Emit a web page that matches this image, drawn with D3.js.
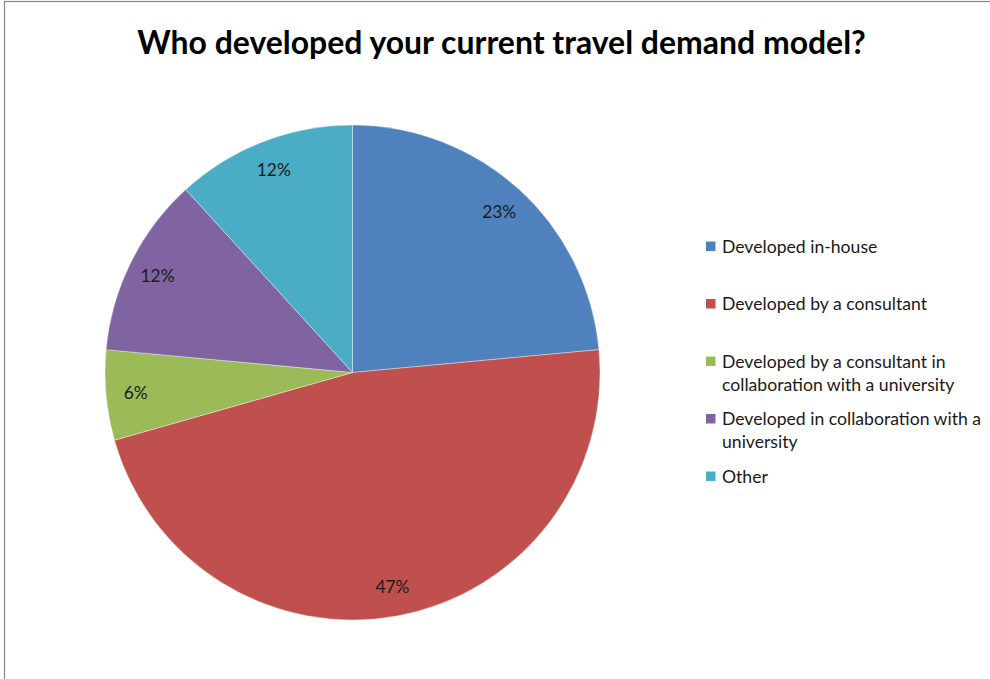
<!DOCTYPE html>
<html>
<head>
<meta charset="utf-8">
<script src="https://cdn.jsdelivr.net/npm/d3@7"></script>
<style>
  html, body { margin: 0; padding: 0; background: #fff; }
  svg { display: block; }
</style>
</head>
<body>
<svg id="chart" width="990" height="679"></svg>
<script>
// ---- data ----
const title = "Who developed your current travel demand model?";
const categories = [
  "Developed in-house",
  "Developed by a consultant",
  "Developed by a consultant in collaboration with a university",
  "Developed in collaboration with a university",
  "Other"
];
const legendLines = [
  ["Developed in-house"],
  ["Developed by a consultant"],
  ["Developed by a consultant in", "collaboration with a university"],
  ["Developed in collaboration with a", "university"],
  ["Other"]
];
const values = [4, 8, 1, 2, 2];
const pctLabels = ["23%", "47%", "6%", "12%", "12%"];
const colors = ["#4F81BD", "#C0504D", "#9BBB59", "#8064A2", "#4BACC6"];

// ---- layout ----
const W = 990, H = 679;
const cx = 352.5, cy = 372.5, R = 247.5;
const font = "Lato, 'Open Sans', 'DejaVu Sans', sans-serif";

const svg = d3.select("#chart");

// chart frame
svg.append("rect")
  .attr("x", 4.5).attr("y", 1.5)
  .attr("width", 1200).attr("height", 1200)
  .attr("fill", "none").attr("stroke", "#878787").attr("stroke-width", 1.2);

// helper to fit font-size to a target width
function fitSize(textSel, target, start) {
  textSel.style("font-size", start + "px");
  const w = textSel.node().getComputedTextLength();
  const s = start * target / w;
  textSel.style("font-size", s + "px");
  return s;
}

// title
const t = svg.append("text")
  .attr("x", 501.5).attr("y", 54)
  .attr("text-anchor", "middle")
  .style("font-family", font)
  .style("font-weight", "bold")
  .attr("fill", "#000")
  .text(title);
fitSize(t, 729, 30);

// pie
const pie = d3.pie().sort(null).value(d => d)
  .startAngle(0).endAngle(2 * Math.PI);
const arcs = pie(values);
const arc = d3.arc().innerRadius(0).outerRadius(R);
const labelArc = d3.arc().innerRadius(R * 0.88).outerRadius(R * 0.88);

const g = svg.append("g").attr("transform", `translate(${cx},${cy})`);
g.selectAll("path.slice")
  .data(arcs)
  .join("path")
  .attr("class", "slice")
  .attr("d", arc)
  .attr("fill", (d, i) => colors[i])
  .attr("stroke", "rgba(255,255,255,0.45)")
  .attr("stroke-width", 0.8);

// percentage labels
const probe = svg.append("text").style("font-family", font).text("23%");
const labelSize = fitSize(probe, 34, 16);
probe.remove();

g.selectAll("text.pct")
  .data(arcs)
  .join("text")
  .attr("class", "pct")
  .attr("transform", d => `translate(${labelArc.centroid(d)})`)
  .attr("text-anchor", "middle")
  .attr("dominant-baseline", "central")
  .style("font-family", font)
  .style("font-size", labelSize + "px")
  .attr("fill", "#1a1a1a")
  .text((d, i) => pctLabels[i]);

// legend
const probe2 = svg.append("text").style("font-family", font).text("Developed by a consultant");
const legSize = fitSize(probe2, 205, 16);
probe2.remove();

const legY = d3.scalePoint().domain(d3.range(categories.length)).range([246, 476]);
const leg = svg.append("g");
const items = leg.selectAll("g.item")
  .data(categories)
  .join("g")
  .attr("class", "item")
  .attr("transform", (d, i) => `translate(706,${legY(i)})`);

items.append("rect")
  .attr("x", 0).attr("y", -4.5)
  .attr("width", 9.5).attr("height", 9.5)
  .attr("fill", (d, i) => colors[i]);

items.each(function(d, i) {
  const txt = d3.select(this).append("text")
    .attr("x", 16).attr("y", 0)
    .style("font-family", font)
    .style("font-size", legSize + "px")
    .attr("fill", "#1a1a1a");
  legendLines[i].forEach((line, k) => {
    txt.append("tspan")
      .attr("x", 16)
      .attr("y", k * 23)
      .attr("dominant-baseline", "central")
      .text(line);
  });
});
</script>
</body>
</html>
